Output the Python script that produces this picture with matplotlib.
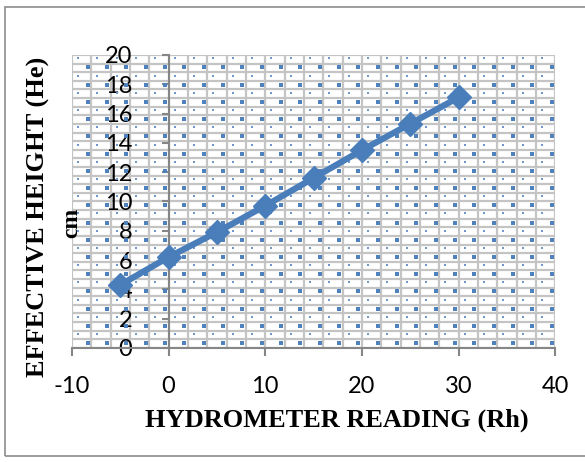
import numpy as np
import matplotlib.pyplot as plt
from matplotlib.patches import Rectangle

plt.rcParams["axes.unicode_minus"] = False

# hydrometer reading vs effective height
rh = [-5, 0, 5, 10, 15, 20, 25, 30]
he = [4.3, 6.2, 7.9, 9.7, 11.6, 13.5, 15.3, 17.1]
x_ticks = [-10, 0, 10, 20, 30, 40]
y_ticks = [0, 2, 4, 6, 8, 10, 12, 14, 16, 18, 20]

fig = plt.figure(figsize=(5.85, 4.62), dpi=100)
ax = fig.add_axes([0.123, 0.247, 0.826, 0.634])
ax.set_xlim(-10, 40)
ax.set_ylim(0, 20)

# brick-like texture on the plot area
cols = np.arange(-10, 40.01, 2)
rows = np.linspace(0, 20, 35)
ax.vlines(cols, 0, 20, color="#c4c4c4", lw=1.6, zorder=1)
ax.hlines(rows, -10, 40, color="#c4c4c4", lw=1.6, zorder=1)
dx, dy = 2, rows[1] - rows[0]
for i, r in enumerate(rows[:-1]):
    if i % 2 == 0:
        xs = cols[:-1] + dx * 0.82
        ax.scatter(xs, np.full(len(xs), r + dy * 0.55), marker="s", s=5,
                   color="#4f81bd", lw=0, zorder=2)
    else:
        xs = cols[:-1] + dx * 0.32
        ax.scatter(xs, np.full(len(xs), r + dy * 0.6), marker="s", s=2.5,
                   color="#7097cc", lw=0, zorder=2)

ax.plot(rh, he, color="#4a7ebb", lw=4.5, marker="D", ms=12,
        mec="#4a7ebb", mfc="#4a7ebb", zorder=5, clip_on=False)

for s in ["top", "right"]:
    ax.spines[s].set_visible(False)
ax.spines["left"].set_position(("data", 0))
for s in ["left", "bottom"]:
    ax.spines[s].set_color("#868686")
    ax.spines[s].set_linewidth(1.5)
    ax.spines[s].set_zorder(3)

ax.set_xticks(x_ticks)
ax.set_yticks(y_ticks)
ax.tick_params(axis="y", direction="out", length=5, width=1.5, color="#868686",
               pad=21, labelsize=17)
ax.tick_params(axis="x", direction="out", length=6, width=1.5, color="#868686",
               pad=14, labelsize=17)
for lab in ax.get_xticklabels() + ax.get_yticklabels():
    lab.set_fontfamily("Lato")

fig.text(0.576, 0.091, "HYDROMETER READING (Rh)", ha="center", va="center",
         fontfamily="Liberation Serif", fontweight="bold", fontsize=19)
fig.text(0.066, 0.53, "EFFECTIVE HEIGHT (He)", ha="center", va="center",
         rotation=90, fontfamily="Liberation Serif", fontweight="bold",
         fontsize=19)
fig.text(0.122, 0.517, "cm", ha="center", va="center", rotation=90,
         fontfamily="Liberation Serif", fontweight="bold", fontsize=17)

# chart area frame
fig.patches.append(Rectangle((0.009, 0.012), 1.2, 0.973, transform=fig.transFigure,
                             fill=False, ec="#8c8c8c", lw=1.2))

fig.savefig("out.png", dpi=100)
